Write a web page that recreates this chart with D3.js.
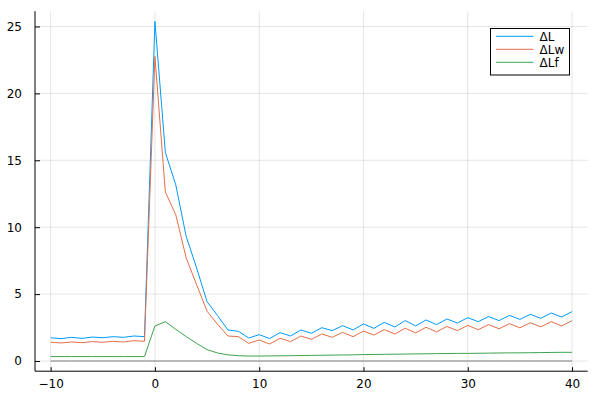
<!DOCTYPE html>
<html>
<head>
<meta charset="utf-8">
<script src="https://cdn.jsdelivr.net/npm/d3@7"></script>
<style>
  html, body { margin: 0; padding: 0; background: #fff; }
  svg { display: block; }
  text { font-family: "DejaVu Sans", sans-serif; fill: #000; }
</style>
</head>
<body>
<svg id="chart" width="600" height="400"></svg>
<script>
// ---- data ----
const xValues = [-10,-9,-8,-7,-6,-5,-4,-3,-2,-1,0,1,2,3,4,5,6,7,8,9,10,11,12,13,14,15,16,17,18,19,20,21,22,23,24,25,26,27,28,29,30,31,32,33,34,35,36,37,38,39,40];
const seriesNames = ["ΔL", "ΔLw", "ΔLf"];
const dL = [1.74,1.67,1.77,1.69,1.79,1.74,1.82,1.77,1.87,1.82,
  25.38,15.58,13.16,9.30,6.95,4.43,3.40,2.32,2.22,1.72,
  1.97,1.68,2.12,1.87,2.32,2.07,2.49,2.27,2.64,2.32,
  2.77,2.44,2.89,2.54,3.02,2.62,3.07,2.72,3.14,2.84,
  3.24,2.94,3.32,3.02,3.41,3.11,3.49,3.19,3.59,3.29,3.69];
const dLw = [1.40,1.35,1.42,1.37,1.45,1.40,1.47,1.42,1.52,1.47,
  22.76,12.64,10.92,7.70,5.70,3.72,2.75,1.87,1.82,1.32,
  1.57,1.27,1.70,1.45,1.87,1.62,2.02,1.77,2.14,1.82,
  2.24,1.94,2.35,2.02,2.45,2.10,2.52,2.18,2.58,2.27,
  2.66,2.34,2.72,2.41,2.79,2.48,2.86,2.55,2.94,2.62,3.02];
const dLf = [0.33,0.33,0.33,0.33,0.33,0.33,0.33,0.33,0.33,0.33,
  2.62,2.94,2.37,1.82,1.32,0.85,0.60,0.46,0.40,0.37,
  0.37,0.38,0.39,0.40,0.41,0.42,0.43,0.44,0.45,0.46,
  0.48,0.49,0.50,0.51,0.52,0.53,0.54,0.55,0.56,0.57,
  0.57,0.58,0.59,0.60,0.61,0.61,0.62,0.63,0.64,0.65,0.65];
const zeroLine = [0,0,0,0,0,0,0,0,0,0,0,0,0,0,0,0,0,0,0,0,0,0,0,0,0,0,0,0,0,0,0,0,0,0,0,0,0,0,0,0,0,0,0,0,0,0,0,0,0,0,0];
const xTicks = [-10, 0, 10, 20, 30, 40];
const yTicks = [0, 5, 10, 15, 20, 25];
const colors = ["#009AFA", "#E36F47", "#3EA44E"];

// ---- layout ----
const svg = d3.select("#chart");
const plotLeft = 35, plotRight = 587.7, plotTop = 11.2, plotBottom = 371.2;

function widen(lo, hi) { const p = (hi - lo) * 0.03; return [lo - p, hi + p]; }
const allY = dL.concat(dLw, dLf, zeroLine);
const x = d3.scaleLinear().domain(widen(d3.min(xValues), d3.max(xValues))).range([plotLeft, plotRight]);
const y = d3.scaleLinear().domain(widen(d3.min(allY), d3.max(allY))).range([plotBottom, plotTop]);

// grid
const grid = svg.append("g");
grid.selectAll("line.vx").data(xTicks).enter().append("line")
  .attr("x1", d => x(d)).attr("x2", d => x(d)).attr("y1", plotTop).attr("y2", plotBottom)
  .attr("stroke", "#000").attr("stroke-opacity", 0.1).attr("stroke-width", 1);
grid.selectAll("line.hy").data(yTicks).enter().append("line")
  .attr("y1", d => y(d)).attr("y2", d => y(d)).attr("x1", plotLeft).attr("x2", plotRight)
  .attr("stroke", "#000").attr("stroke-opacity", 0.1).attr("stroke-width", 1);

// axes
const fmt = d => (d < 0 ? "\u2212" + Math.abs(d) : String(d));
const xAxis = d3.axisBottom(x).tickValues(xTicks).tickSize(-4).tickSizeOuter(0).tickPadding(8).tickFormat(fmt);
const yAxis = d3.axisLeft(y).tickValues(yTicks).tickSize(-5).tickSizeOuter(0).tickPadding(13).tickFormat(fmt);
const gx = svg.append("g").attr("transform", `translate(0,${plotBottom})`).call(xAxis);
const gy = svg.append("g").attr("transform", `translate(${plotLeft},0)`).call(yAxis);
[gx, gy].forEach(g => {
  g.select(".domain").remove();
  g.selectAll(".tick line").attr("stroke", "#000").attr("stroke-width", 1);
  g.selectAll(".tick text").style("font-family", "DejaVu Sans, sans-serif").style("font-size", "12px").attr("fill", "#000");
});
gx.selectAll(".tick text").attr("dy", "0.71em");
// axis lines
svg.append("line").attr("x1", plotLeft).attr("x2", plotLeft).attr("y1", plotTop).attr("y2", plotBottom)
  .attr("stroke", "#000").attr("stroke-width", 1);
svg.append("line").attr("x1", plotLeft).attr("x2", plotRight).attr("y1", plotBottom).attr("y2", plotBottom)
  .attr("stroke", "#000").attr("stroke-width", 1);

// lines
const line = d3.line().x((d, i) => x(xValues[i])).y(d => y(d));
const seriesData = [dL, dLw, dLf];
svg.append("path").datum(zeroLine).attr("d", line).attr("fill", "none")
  .attr("stroke", "#808080").attr("stroke-width", 1);
seriesData.forEach((s, i) => {
  svg.append("path").datum(s).attr("d", line).attr("fill", "none")
    .attr("stroke", colors[i]).attr("stroke-width", 1).attr("stroke-linejoin", "round");
});

// legend
const lg = svg.append("g");
lg.append("rect").attr("x", 490.5).attr("y", 28.5).attr("width", 79).attr("height", 46.5)
  .attr("fill", "#fff").attr("stroke", "#000").attr("stroke-width", 1);
seriesNames.forEach((name, i) => {
  const yy = 36.3 + i * 13;
  lg.append("line").attr("x1", 496).attr("x2", 533.5).attr("y1", yy).attr("y2", yy)
    .attr("stroke", colors[i]).attr("stroke-width", 1);
  lg.append("text").attr("x", 539.5).attr("y", yy).attr("dy", "0.35em")
    .style("font-size", "12px").text(name);
});
</script>
</body>
</html>
